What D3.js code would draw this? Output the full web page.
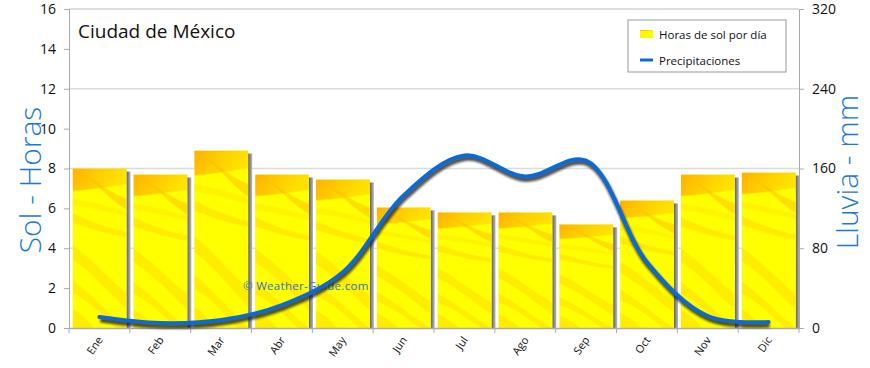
<!DOCTYPE html>
<html>
<head>
<meta charset="utf-8">
<script src="https://cdn.jsdelivr.net/npm/d3@7"></script>
<style>
  body { margin: 0; background: #fff; }
  text { font-family: "Open Sans", sans-serif; }
</style>
</head>
<body>
<svg id="canvas" width="870" height="368"></svg>
<script>
const MONTHS = ["Ene", "Feb", "Mar", "Abr", "May", "Jun", "Jul", "Ago", "Sep", "Oct", "Nov", "Dic"];
const SUN_HOURS = [8.0, 7.7, 8.9, 7.7, 7.45, 6.05, 5.8, 5.8, 5.2, 6.4, 7.7, 7.8];
const RAIN_MM = [11, 5, 8, 23, 56, 133, 173, 152, 168, 66, 12, 6];
const LEFT_TICKS = [0, 2, 4, 6, 8, 10, 12, 14, 16];
const RIGHT_TICKS = [0, 80, 160, 240, 320];
const GRID_TICKS = [4, 8, 12];

const svg = d3.select("#canvas");
const M = { left: 69, right: 799, top: 9, bottom: 328 };

const x = d3.scaleBand().domain(MONTHS).range([M.left, M.right]);
const ySun = d3.scaleLinear().domain([0, 16]).range([M.bottom, M.top]);
const yRain = d3.scaleLinear().domain([0, 320]).range([M.bottom, M.top]);
const step = x.step();

const defs = svg.append("defs");

// bar texture: same image stretched over each bar
const topGrad = defs.append("linearGradient").attr("id", "topband")
  .attr("x1", 0).attr("y1", 0).attr("x2", 1).attr("y2", 0.3);
topGrad.append("stop").attr("offset", "0%").attr("stop-color", "#ffa800").attr("stop-opacity", 0.9);
topGrad.append("stop").attr("offset", "100%").attr("stop-color", "#ffc800").attr("stop-opacity", 0.5);

const pat = defs.append("pattern")
  .attr("id", "sunfill")
  .attr("patternContentUnits", "objectBoundingBox")
  .attr("width", 1).attr("height", 1);
pat.append("rect").attr("width", 1).attr("height", 1).attr("fill", "#ffff00");
pat.append("path")
  .attr("d", "M0,0 L1,0 L1,0.1 C0.7,0.11 0.5,0.13 0,0.14 Z")
  .attr("fill", "url(#topband)");
const streaks = [
  ["M0,0.02 C0.35,0.04 0.55,0.16 1,0.26 L1,0.19 C0.6,0.14 0.4,0.06 0,0.0 Z", "#ffb400", 0.45],
  ["M0,0.28 C0.3,0.33 0.6,0.37 1,0.4 L1,0.43 C0.6,0.41 0.3,0.37 0,0.34 Z", "#ffbc00", 0.3],
  ["M0,0.19 C0.4,0.21 0.7,0.24 1,0.27 L1,0.3 C0.6,0.27 0.3,0.24 0,0.23 Z", "#ffd000", 0.25],
  ["M0,0.48 C0.4,0.58 0.7,0.7 1,0.78 L1,0.88 C0.7,0.79 0.4,0.66 0,0.57 Z", "#ffc400", 0.3],
  ["M0,0.7 C0.4,0.8 0.7,0.92 1,1 L0.8,1 C0.5,0.9 0.3,0.83 0,0.78 Z", "#ffbc00", 0.28],
  ["M0,0.88 C0.2,0.92 0.3,0.96 0.4,1 L0,1 Z", "#ffc000", 0.3]
];
streaks.forEach(s => pat.append("path").attr("d", s[0]).attr("fill", s[1]).attr("opacity", s[2]));

const shadowGrad = defs.append("linearGradient").attr("id", "barshadow");
shadowGrad.append("stop").attr("offset", "0%").attr("stop-color", "#606060");
shadowGrad.append("stop").attr("offset", "100%").attr("stop-color", "#b8b8b8");

defs.append("filter").attr("id", "blur")
  .append("feGaussianBlur").attr("stdDeviation", 1.2);

// gridlines
svg.append("g").selectAll("line").data(GRID_TICKS).join("line")
  .attr("x1", M.left).attr("x2", M.right)
  .attr("y1", d => ySun(d)).attr("y2", d => ySun(d))
  .attr("stroke", "#dcdcdc").attr("stroke-width", 1.5);
svg.append("line")
  .attr("x1", M.left).attr("x2", M.right)
  .attr("y1", ySun(16)).attr("y2", ySun(16))
  .attr("stroke", "#bbb");

// bars
const bars = svg.append("g");
const bx = m => x(m) + step * 0.06;
const bw = step * 0.885;
bars.selectAll("rect.shadow").data(SUN_HOURS).join("rect")
  .attr("class", "shadow")
  .attr("x", (d, i) => bx(MONTHS[i]) + bw)
  .attr("y", d => ySun(d) + 3)
  .attr("width", 4)
  .attr("height", d => ySun(0) - ySun(d) - 3)
  .attr("fill", "url(#barshadow)");
bars.selectAll("rect.bar").data(SUN_HOURS).join("rect")
  .attr("class", "bar")
  .attr("x", (d, i) => bx(MONTHS[i]))
  .attr("y", d => ySun(d))
  .attr("width", bw)
  .attr("height", d => ySun(0) - ySun(d))
  .attr("fill", "url(#sunfill)");

// axes
const axisColor = "#aaa";
const leftAxis = svg.append("g").attr("transform", `translate(${M.left},0)`)
  .call(d3.axisLeft(ySun).tickValues(LEFT_TICKS).tickSize(5).tickPadding(8).tickFormat(d3.format("d")));
const rightAxis = svg.append("g").attr("transform", `translate(${M.right},0)`)
  .call(d3.axisRight(yRain).tickValues(RIGHT_TICKS).tickSize(5).tickPadding(8).tickFormat(d3.format("d")));
const bottomAxis = svg.append("g").attr("transform", `translate(0,${M.bottom})`)
  .call(d3.axisBottom(x).tickSize(0).tickPadding(0));
[leftAxis, rightAxis].forEach(a => {
  a.select(".domain").attr("stroke", axisColor);
  a.selectAll(".tick line").attr("stroke", axisColor);
  a.selectAll("text").attr("font-size", 14).attr("fill", "#111");
});
bottomAxis.select(".domain").attr("stroke", axisColor).attr("stroke-width", 1.5);
bottomAxis.selectAll(".tick text")
  .attr("font-size", 11).attr("fill", "#111")
  .attr("text-anchor", "end")
  .attr("dx", 0).attr("dy", 0)
  .attr("transform", "translate(4,12) rotate(-55)");
svg.append("g").selectAll("line").data(d3.range(13)).join("line")
  .attr("x1", i => M.left + i * step).attr("x2", i => M.left + i * step)
  .attr("y1", M.bottom).attr("y2", M.bottom + 5)
  .attr("stroke", axisColor);

// watermark
svg.append("text")
  .attr("x", 243).attr("y", 290)
  .attr("font-size", 11.5).attr("fill", "#3070d0")
  .attr("letter-spacing", 0.3)
  .text("©  Weather-Guide.com");

// precipitation line
const line = d3.line()
  .x((d, i) => x(MONTHS[i]) + step / 2)
  .y(d => yRain(d))
  .curve(d3.curveCatmullRom.alpha(0.5));
svg.append("path").datum(RAIN_MM)
  .attr("d", line)
  .attr("fill", "none").attr("stroke", "#1a1a1a").attr("stroke-width", 5)
  .attr("opacity", 0.75)
  .attr("transform", "translate(1,3)")
  .attr("filter", "url(#blur)");
svg.append("path").datum(RAIN_MM)
  .attr("d", line)
  .attr("fill", "none").attr("stroke", "#0a6ad6").attr("stroke-width", 4)
  .attr("stroke-linecap", "round");

// title
svg.append("text")
  .attr("x", 78).attr("y", 38)
  .attr("font-size", 19).attr("fill", "#111")
  .text("Ciudad de México");

// axis titles
svg.append("text")
  .attr("transform", "translate(41,180) rotate(-90)")
  .attr("text-anchor", "middle")
  .attr("font-size", 30).attr("font-weight", 300).attr("fill", "#1a7ad8")
  .text("Sol - Horas");
svg.append("text")
  .attr("transform", "translate(858,172) rotate(-90)")
  .attr("text-anchor", "middle")
  .attr("font-size", 30).attr("font-weight", 300).attr("fill", "#1a7ad8")
  .text("Lluvia - mm");

// legend
const legend = svg.append("g").attr("transform", "translate(628,20)");
legend.append("rect").attr("width", 158).attr("height", 52)
  .attr("fill", "#fff").attr("stroke", "#999");
legend.append("rect").attr("x", 12).attr("y", 10).attr("width", 13).attr("height", 8)
  .attr("fill", "url(#sunfill)");
legend.append("text").attr("x", 31).attr("y", 19).attr("font-size", 11.5).attr("fill", "#111")
  .text("Horas de sol por día");
legend.append("line").attr("x1", 12).attr("x2", 25).attr("y1", 40).attr("y2", 40)
  .attr("stroke", "#0a6ad6").attr("stroke-width", 3);
legend.append("text").attr("x", 31).attr("y", 45).attr("font-size", 11.5).attr("fill", "#111")
  .text("Precipitaciones");
</script>
</body>
</html>
